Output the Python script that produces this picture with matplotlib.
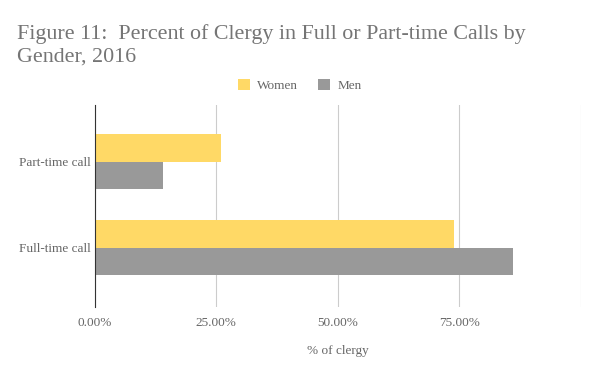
import matplotlib.pyplot as plt
import numpy as np

categories = ['Part-time call', 'Full-time call']
women = [26, 74]
men = [14, 86]
xticks = [0, 25, 50, 75, 100]
xtick_labels = ['0.00%', '25.00%', '50.00%', '75.00%', '']

plt.rcParams['font.family'] = ['Liberation Serif', 'DejaVu Serif']
text_color = '#666666'

fig = plt.figure(figsize=(6, 3.77), dpi=100)
ax = fig.add_axes([0.158, 0.186, 0.81, 0.535])

y = np.arange(len(categories))
h = 0.32
ax.barh(y - h / 2, women, height=h, color='#FFD966', label='Women', zorder=2)
ax.barh(y + h / 2, men, height=h, color='#999999', label='Men', zorder=2)

ax.set_xlim(0, 100)
ax.set_ylim(1.69, -0.66)
ax.set_yticks(y)
ax.set_yticklabels(categories, color=text_color, fontsize=9.5)
ax.set_xticks(xticks)
ax.set_xticklabels(xtick_labels, color=text_color, fontsize=9.5)
ax.tick_params(length=0, pad=7)
ax.tick_params(axis='y', pad=3)
ax.grid(axis='x', color='#cccccc', linewidth=0.8, zorder=0)
for s in ['top', 'right', 'bottom']:
    ax.spines[s].set_visible(False)
ax.spines['left'].set_color('#333333')
ax.spines['left'].set_zorder(3)

ax.set_xlabel('% of clergy', color=text_color, fontsize=9.5, labelpad=12)

fig.text(0.028, 0.836, 'Figure 11:  Percent of Clergy in Full or Part-time Calls by\nGender, 2016',
         fontsize=15.8, color='#757575', ha='left', va='baseline', linespacing=1.3)

fig.legend(loc='center', bbox_to_anchor=(0.5, 0.772), ncol=2, frameon=False,
           fontsize=9.5, labelcolor=text_color, handlelength=0.9, handleheight=0.9,
           columnspacing=1.5, handletextpad=0.6)

fig.savefig('out.png', dpi=100)
